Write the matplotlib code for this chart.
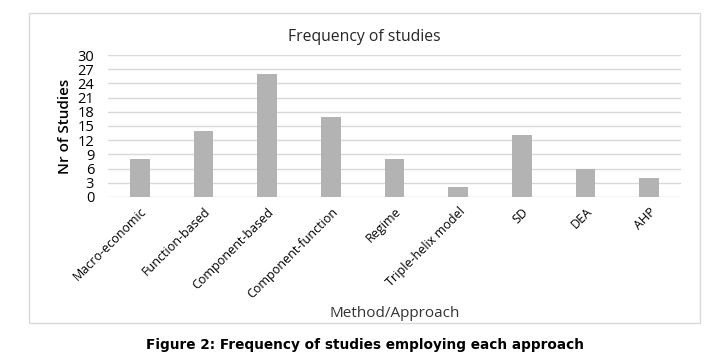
import numpy as np
import matplotlib
matplotlib.use("Agg")
import matplotlib.pyplot as plt
from matplotlib.patches import Rectangle

# chart data
methods = ["Macro-economic", "Function-based", "Component-based", "Component-function",
           "Regime", "Triple-helix model", "SD", "DEA", "AHP"]
n_studies = [8, 14, 26, 17, 8, 2, 13, 6, 4]
y_ticks = list(range(0, 31, 3))

plt.rcParams["font.family"] = ["Open Sans", "DejaVu Sans"]

fig = plt.figure(figsize=(7.11, 3.62), dpi=100)
ax = fig.add_axes([0.152, 0.456, 0.806, 0.392])

# chart frame
fig.patches.append(Rectangle((0.041, 0.108), 0.944, 0.856, transform=fig.transFigure,
                             fill=False, edgecolor="#d9d9d9", linewidth=1))

x = np.arange(len(methods))
ax.bar(x, n_studies, width=0.31, color="#b3b3b3", zorder=3)

ax.set_xlim(-0.5, len(methods) - 0.5)
ax.set_ylim(0, 30)
ax.set_yticks(y_ticks)
ax.set_yticklabels([str(t) for t in y_ticks], fontsize=10.5)
ax.yaxis.grid(True, color="#d9d9d9", linewidth=1, zorder=0)
ax.set_xticks(x)
ax.set_xticklabels(methods, rotation=45, ha="right", va="top", fontsize=9,
                   rotation_mode="anchor")
ax.tick_params(axis="both", length=0)
ax.tick_params(axis="y", pad=10)
ax.tick_params(axis="x", pad=6)
for s in ax.spines.values():
    s.set_visible(False)

ax.set_ylabel("Nr of Studies", fontsize=11, fontweight="semibold", labelpad=4)
fig.text(0.513, 0.898, "Frequency of studies", ha="center", va="center",
         fontsize=11.3, color="#262626")
fig.text(0.555, 0.135, "Method/Approach", ha="center", va="center", fontsize=11, color="#333333")
fig.text(0.513, 0.047, "Figure 2: Frequency of studies employing each approach",
         ha="center", va="center", fontsize=9.8, fontweight="bold", family="DejaVu Sans")

fig.savefig("out.png", dpi=100)
